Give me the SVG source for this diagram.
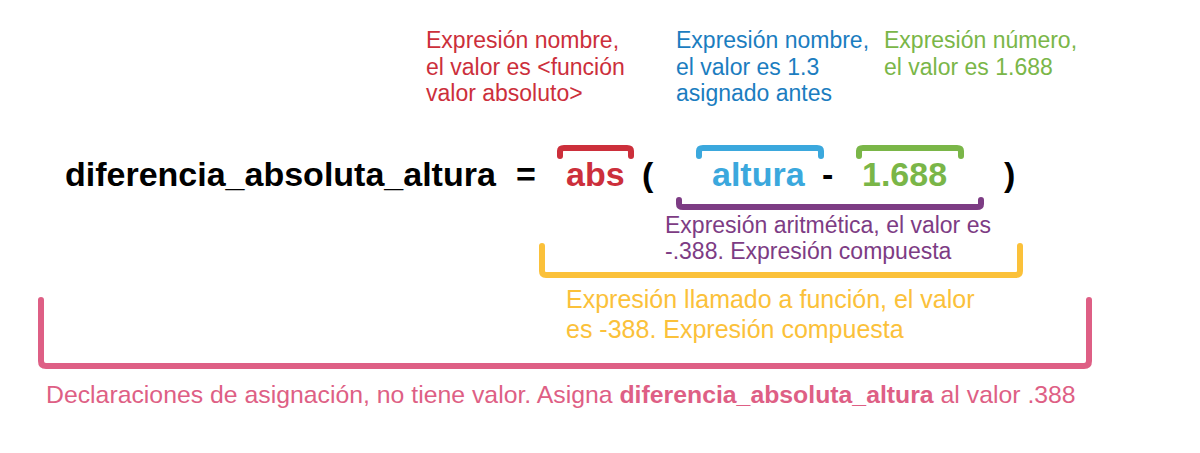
<svg xmlns="http://www.w3.org/2000/svg" width="1200" height="453" viewBox="0 0 1200 453">
<style>
text{font-family:"Liberation Sans",Arial,sans-serif;}
.code{font-size:34px;font-weight:bold;}
.lbl{font-size:23px;}
.lbl2{font-size:25px;}
.lbl3{font-size:24.8px;}
.br{fill:none;stroke-width:6;stroke-linecap:round;stroke-linejoin:round;}
</style>
<rect width="1200" height="453" fill="#ffffff"/>
<g id="code">
<text class="code" x="65" y="186" fill="#000">diferencia_absoluta_altura</text>
<text class="code" x="516" y="186" fill="#000">=</text>
<text class="code" x="566" y="186" fill="#cc2f3b">abs</text>
<text class="code" x="642" y="186" fill="#000">(</text>
<text class="code" x="712" y="186" fill="#3ba8dd">altura</text>
<text class="code" x="822" y="186" fill="#000">-</text>
<text class="code" x="862" y="186" fill="#7ab648">1.688</text>
<text class="code" x="1004" y="186" fill="#000">)</text>
</g>
<g id="connectors">
<path class="br" stroke="#cc2f3b" d="M560,156 V151 Q560,148 564,148 H627 Q631,148 631,151 V156"/>
<path class="br" stroke="#3ba8dd" d="M699,156 V151 Q699,148 703,148 H817 Q821,148 821,151 V156"/>
<path class="br" stroke="#7ab648" d="M859,156 V151 Q859,148 863,148 H957 Q961,148 961,151 V156"/>
<path class="br" stroke="#7d3c84" d="M679,200 V204 Q679,207 683,207 H977 Q981,207 981,204 V200"/>
<path class="br" stroke="#fbc13a" d="M542,246 V271 Q542,275 546,275 H1016 Q1020,275 1020,271 V246"/>
<path class="br" stroke="#de5f85" d="M41,300 V361 Q41,366 46,366 H1084 Q1089,366 1089,361 V300"/>
</g>
<g id="label-abs">
<text class="lbl" fill="#cc2f3b" x="426" y="48">Expresión nombre,</text>
<text class="lbl" fill="#cc2f3b" x="426" y="75">el valor es &lt;función</text>
<text class="lbl" fill="#cc2f3b" x="426" y="101">valor absoluto&gt;</text>
</g>
<g id="label-altura">
<text class="lbl" fill="#1b7dc0" x="676" y="48">Expresión nombre,</text>
<text class="lbl" fill="#1b7dc0" x="676" y="75">el valor es 1.3</text>
<text class="lbl" fill="#1b7dc0" x="676" y="101">asignado antes</text>
</g>
<g id="label-numero">
<text class="lbl" fill="#7ab648" x="884" y="48">Expresión número,</text>
<text class="lbl" fill="#7ab648" x="884" y="75">el valor es 1.688</text>
</g>
<g id="label-aritmetica">
<text class="lbl" fill="#7d3c84" x="665" y="233">Expresión aritmética, el valor es</text>
<text class="lbl" fill="#7d3c84" x="665" y="259">-.388. Expresión compuesta</text>
</g>
<g id="label-llamado">
<text class="lbl2" fill="#fbc13a" x="566" y="308">Expresión llamado a función, el valor</text>
<text class="lbl2" fill="#fbc13a" x="566" y="338">es -388. Expresión compuesta</text>
</g>
<g id="label-declaracion">
<text class="lbl3" fill="#de5f85" x="46" y="403">Declaraciones de asignación, no tiene valor. Asigna <tspan font-weight="bold">diferencia_absoluta_altura</tspan> al valor .388</text>
</g>
</svg>
